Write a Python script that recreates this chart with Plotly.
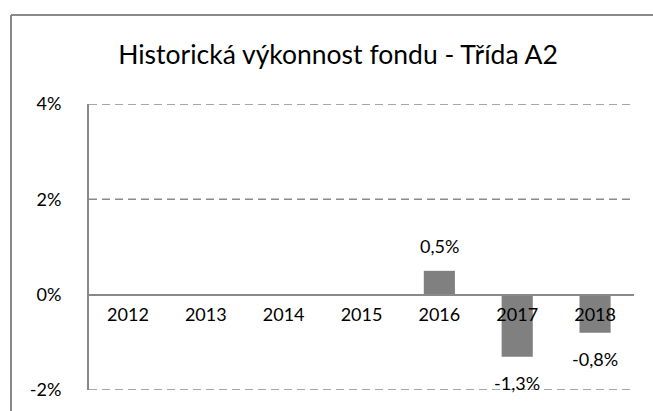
import plotly.graph_objects as go

# Annual fund performance, class A2 (in %)
years = ["2012", "2013", "2014", "2015", "2016", "2017", "2018"]
returns = [None, None, None, None, 0.5, -1.3, -0.8]
y_ticks = [-2, 0, 2, 4]
y_tick_labels = ["-2%", "0%", "2%", "4%"]

title_text = "Historická výkonnost fondu - Třída A2"
font_family = "Lato"
grey = "#898989"

# plot-area geometry in pixels (used for the frame shapes)
W, H = 653, 411
ml, mr, mt, mb = 89, 19, 104, 21
pw, ph = W - ml - mr, H - mt - mb
y_min, y_max = -2, 4


def fmt(v):
    return f"{v:.1f}".replace(".", ",") + "%"


def px_x(p):
    return (p - ml) / pw


def px_y(p):
    return (H - mb - p) / ph


fig = go.Figure(
    go.Bar(
        x=years,
        y=returns,
        width=0.4,
        marker=dict(color="#808080", line=dict(width=0)),
        hoverinfo="skip",
    )
)

# value labels above positive bars, below negative ones
# (category index used for x so the year strings are not read as numbers)
for i, v in enumerate(returns):
    if v is None:
        continue
    fig.add_annotation(
        x=i,
        y=v,
        xref="x",
        yref="y",
        text=fmt(v),
        showarrow=False,
        yanchor="bottom" if v >= 0 else "top",
        yshift=12 if v >= 0 else -13,
        font=dict(family=font_family, size=18, color="#000"),
    )

# dashed horizontal gridlines (the zero line is the category axis itself)
for t in y_ticks:
    if t == 0:
        continue
    fig.add_shape(type="line", xref="paper", yref="y",
                  x0=0, x1=1, y0=t, y1=t, layer="below",
                  line=dict(color=grey, width=1.5, dash="8px,5px"))

# chart frame (left and top edges)
fig.add_shape(type="line", xref="paper", yref="paper",
              x0=px_x(11), x1=px_x(11), y0=px_y(15), y1=px_y(430),
              line=dict(color=grey, width=2))
fig.add_shape(type="line", xref="paper", yref="paper",
              x0=px_x(11), x1=px_x(680), y0=px_y(15), y1=px_y(15),
              line=dict(color=grey, width=2))

fig.update_layout(
    width=W,
    height=H,
    margin=dict(l=ml, r=mr, t=mt, b=mb),
    paper_bgcolor="white",
    plot_bgcolor="white",
    showlegend=False,
    font=dict(family=font_family, size=18, color="#000"),
    title=dict(
        text=title_text,
        xref="paper",
        x=px_x(338),
        xanchor="center",
        yref="container",
        y=1 - 55 / H,
        yanchor="middle",
        font=dict(family=font_family, size=26.5, color="#000"),
    ),
    xaxis=dict(
        type="category",
        range=[-0.5, len(years) - 0.5],
        anchor="free",
        position=(0 - y_min) / (y_max - y_min),
        showline=True,
        linecolor=grey,
        linewidth=2,
        showgrid=False,
        ticks="",
        ticklabelstandoff=4,
        tickfont=dict(family=font_family, size=18, color="#000"),
    ),
    yaxis=dict(
        range=[y_min, y_max],
        tickmode="array",
        tickvals=y_ticks,
        ticktext=y_tick_labels,
        showline=True,
        linecolor=grey,
        linewidth=2,
        showgrid=False,
        zeroline=False,
        ticks="",
        ticklabelstandoff=22,
        tickfont=dict(family=font_family, size=18, color="#000"),
    ),
)

fig.write_html("out.html")
